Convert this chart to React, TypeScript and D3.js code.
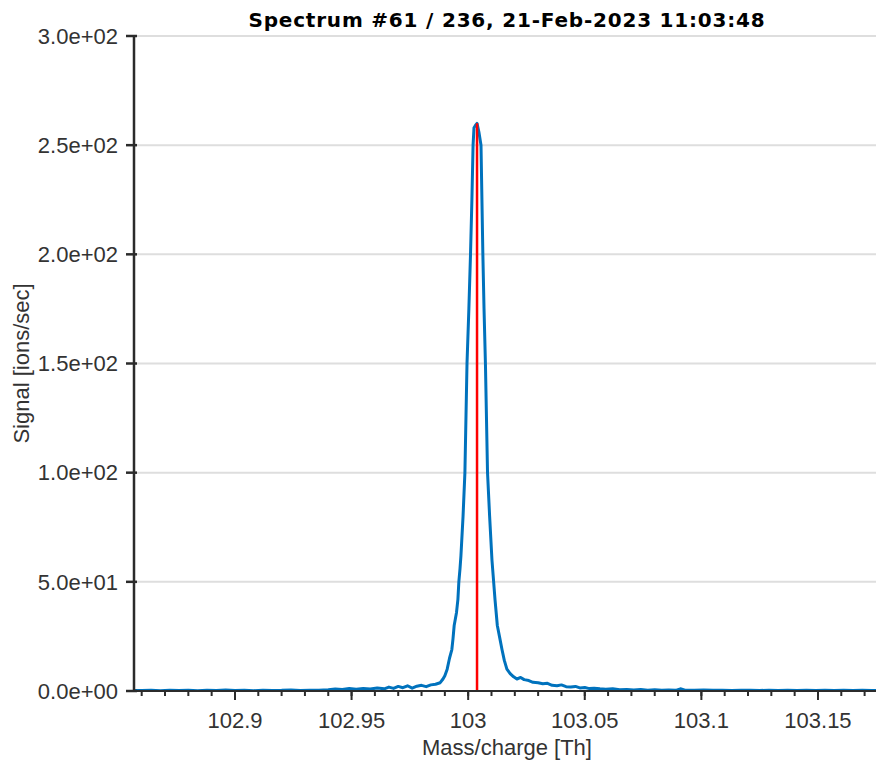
import { useEffect, useRef } from 'react';
import * as d3 from 'd3';

const W = 876, H = 760;
const M = { left: 134, right: 880, top: 36, bottom: 691 };

const TITLE = 'Spectrum #61 / 236, 21-Feb-2023 11:03:48';
const X_LABEL = 'Mass/charge [Th]';
const Y_LABEL = 'Signal [ions/sec]';

const X_DOMAIN = [102.8567, 103.1766];
const Y_DOMAIN = [0, 300];
const X_TICKS = [102.9, 102.95, 103, 103.05, 103.1, 103.15];
const X_TICK_LABELS = ['102.9', '102.95', '103', '103.05', '103.1', '103.15'];
const Y_TICKS = [0, 50, 100, 150, 200, 250, 300];
const Y_TICK_LABELS = ['0.0e+00', '5.0e+01', '1.0e+02', '1.5e+02', '2.0e+02', '2.5e+02', '3.0e+02'];

// measured spectrum (m/z, ions/sec)
const MZ = [
  102.856, 102.86, 102.864, 102.868, 102.872, 102.876, 102.88, 102.884, 102.888, 102.892,
  102.896, 102.9, 102.904, 102.908, 102.912, 102.916, 102.92, 102.924, 102.928, 102.932,
  102.936, 102.94, 102.943, 102.946, 102.949, 102.952, 102.955, 102.958, 102.961, 102.964,
  102.966, 102.968, 102.97, 102.972, 102.974, 102.976, 102.978, 102.98, 102.982, 102.984,
  102.986, 102.988, 102.9892, 102.99, 102.991, 102.992, 102.993, 102.9935, 102.994, 102.995,
  102.9956, 102.996, 102.9965, 102.9969, 102.9978, 102.9986, 102.9995, 103.0003, 103.001,
  103.0016, 103.0021, 103.0025, 103.0031, 103.0038, 103.0046, 103.0055, 103.0063, 103.0068, 103.0074,
  103.0083, 103.0092, 103.0102, 103.0115, 103.0125, 103.0136, 103.0145, 103.0155, 103.0166, 103.018,
  103.0195, 103.0209, 103.0225, 103.024, 103.026, 103.0278, 103.03, 103.032, 103.034, 103.036,
  103.0381, 103.04, 103.042, 103.044, 103.046, 103.0479, 103.05, 103.052, 103.054, 103.0565,
  103.059, 103.062, 103.065, 103.068, 103.071, 103.074, 103.077, 103.08, 103.083, 103.086,
  103.089, 103.091, 103.093, 103.097, 103.101, 103.105, 103.109, 103.113, 103.117, 103.121,
  103.125, 103.129, 103.133, 103.137, 103.141, 103.145, 103.149, 103.153, 103.157, 103.161,
  103.165, 103.169, 103.173, 103.177,
];
const SIGNAL = [
  0.3, 0.2, 0.4, 0.1, 0.3, 0.2, 0.4, 0.1, 0.3, 0.2,
  0.5, 0.2, 0.3, 0.1, 0.4, 0.2, 0.3, 0.5, 0.2, 0.4,
  0.3, 0.6, 0.9, 0.7, 1.1, 0.8, 1.2, 0.9, 1.4, 1.0,
  1.8, 1.2, 2.1, 1.5, 2.4, 1.3, 2.2, 2.6, 2.0, 2.8,
  3.1, 3.8, 5.5, 7, 10, 15, 19, 24, 30, 36,
  42, 50, 56, 62, 80, 100, 150, 175, 200,
  225, 250, 258, 259, 260, 256, 250, 200, 175, 150,
  100, 80, 60, 42, 30, 24, 19, 14, 10, 8,
  6.5, 5.5, 6.2, 5.2, 4.8, 4.0, 3.8, 3.3, 3.5, 2.6,
  2.4, 2.8, 2.0, 1.8, 2.1, 1.4, 1.6, 1.1, 1.3, 1.0,
  0.8, 1.0, 0.6, 0.7, 0.5, 0.7, 0.4, 0.6, 0.4, 0.5,
  0.3, 1.0, 0.4, 0.3, 0.5, 0.3, 0.4, 0.2, 0.4, 0.3,
  0.2, 0.4, 0.2, 0.3, 0.2, 0.4, 0.2, 0.3, 0.2, 0.4,
  0.2, 0.3, 0.2, 0.3,
];

// selected peak marker
const PEAK_MZ = 103.0038;
const PEAK_SIGNAL = 260;

const AXIS = '#2b2b2b';
const FONT = '"Liberation Sans", Arial, Helvetica, sans-serif';

export default function App() {
  const svgRef = useRef<SVGSVGElement>(null);

  useEffect(() => {
    const svg = d3.select(svgRef.current);
    svg.selectAll('*').remove();

    const x = d3.scaleLinear().domain(X_DOMAIN).range([M.left, M.right]);
    const y = d3.scaleLinear().domain(Y_DOMAIN).range([M.bottom, M.top]);

    svg.append('defs').append('clipPath').attr('id', 'plot-clip')
      .append('rect')
      .attr('x', M.left).attr('y', M.top - 10)
      .attr('width', M.right - M.left).attr('height', M.bottom - M.top + 10);

    // grid
    svg.append('g')
      .selectAll('line')
      .data(Y_TICKS.filter((d) => d > 0))
      .join('line')
      .attr('x1', M.left).attr('x2', M.right)
      .attr('y1', (d) => y(d)).attr('y2', (d) => y(d))
      .attr('stroke', '#dedede')
      .attr('stroke-width', 2);

    // spectrum
    const pts = MZ.map((m, i) => [m, SIGNAL[i]] as [number, number]);
    const line = d3.line<[number, number]>().x((d) => x(d[0])).y((d) => y(d[1]));
    svg.append('path')
      .datum(pts)
      .attr('clip-path', 'url(#plot-clip)')
      .attr('d', line)
      .attr('fill', 'none')
      .attr('stroke', '#0072BD')
      .attr('stroke-width', 3)
      .attr('stroke-linejoin', 'round');

    // peak marker
    svg.append('line')
      .attr('x1', x(PEAK_MZ)).attr('x2', x(PEAK_MZ))
      .attr('y1', y(0)).attr('y2', y(PEAK_SIGNAL))
      .attr('stroke', '#ff0000')
      .attr('stroke-width', 2.5);

    // x axis
    const xa = svg.append('g');
    xa.append('line')
      .attr('x1', M.left).attr('x2', M.right)
      .attr('y1', M.bottom).attr('y2', M.bottom)
      .attr('stroke', AXIS).attr('stroke-width', 2);
    const minor = d3.range(102.86, 103.18, 0.01).filter((v) => x(v) >= M.left && x(v) <= M.right);
    xa.selectAll('.minor')
      .data(minor)
      .join('line')
      .attr('class', 'minor')
      .attr('x1', (d) => x(d)).attr('x2', (d) => x(d))
      .attr('y1', M.bottom).attr('y2', M.bottom + 5)
      .attr('stroke', AXIS).attr('stroke-width', 2);
    xa.selectAll('.major')
      .data(X_TICKS)
      .join('line')
      .attr('class', 'major')
      .attr('x1', (d) => x(d)).attr('x2', (d) => x(d))
      .attr('y1', M.bottom).attr('y2', M.bottom + 9)
      .attr('stroke', AXIS).attr('stroke-width', 2);
    xa.selectAll('text')
      .data(X_TICKS)
      .join('text')
      .attr('x', (d) => x(d))
      .attr('y', 728)
      .attr('text-anchor', 'middle')
      .attr('font-family', FONT)
      .attr('font-size', 22)
      .attr('fill', '#333')
      .text((d, i) => X_TICK_LABELS[i]);

    // y axis
    const ya = svg.append('g');
    ya.append('line')
      .attr('x1', M.left).attr('x2', M.left)
      .attr('y1', M.top).attr('y2', M.bottom)
      .attr('stroke', AXIS).attr('stroke-width', 2.5);
    ya.selectAll('.tick')
      .data(Y_TICKS)
      .join('line')
      .attr('class', 'tick')
      .attr('x1', M.left - 8).attr('x2', M.left + 3)
      .attr('y1', (d) => y(d)).attr('y2', (d) => y(d))
      .attr('stroke', AXIS).attr('stroke-width', 2.5);
    ya.selectAll('text')
      .data(Y_TICKS)
      .join('text')
      .attr('x', M.left - 16)
      .attr('y', (d) => y(d))
      .attr('dy', '0.35em')
      .attr('text-anchor', 'end')
      .attr('font-family', FONT)
      .attr('font-size', 22)
      .attr('fill', '#333')
      .text((d, i) => Y_TICK_LABELS[i]);

    // labels
    svg.append('text')
      .attr('x', 507).attr('y', 755)
      .attr('text-anchor', 'middle')
      .attr('font-family', FONT)
      .attr('font-size', 22)
      .attr('fill', '#333')
      .text(X_LABEL);
    svg.append('text')
      .attr('transform', `translate(29,${(M.top + M.bottom) / 2}) rotate(-90)`)
      .attr('text-anchor', 'middle')
      .attr('font-family', FONT)
      .attr('font-size', 22)
      .attr('fill', '#333')
      .text(Y_LABEL);
    svg.append('text')
      .attr('x', 507).attr('y', 27)
      .attr('text-anchor', 'middle')
      .attr('font-family', '"DejaVu Sans", sans-serif')
      .attr('font-weight', 'bold')
      .attr('font-size', 20)
      .attr('letter-spacing', 0.8)
      .attr('fill', '#000')
      .text(TITLE);
  }, []);

  return (
    <svg
      ref={svgRef}
      width={W}
      height={H}
      style={{ position: 'absolute', left: 0, top: 0, background: '#fff' }}
    />
  );
}
